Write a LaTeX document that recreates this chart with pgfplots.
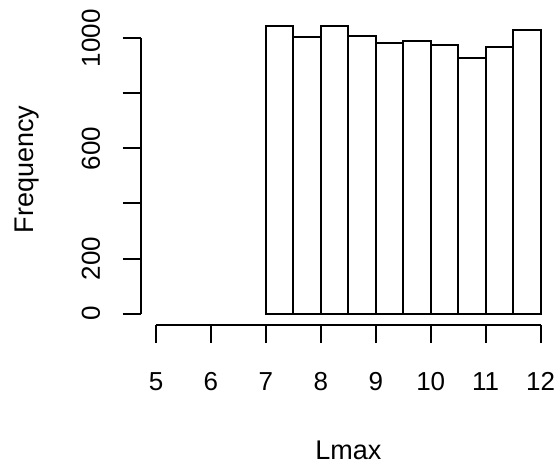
\documentclass[border=0pt]{standalone}
\usepackage{fontspec}
\setmainfont{Liberation Sans}
\usepackage{pgfplots}
\pgfplotsset{compat=1.18}

\begin{document}
\begin{tikzpicture}
\path[use as bounding box] (-70.3pt,-69.9pt) rectangle (207.2pt,162.6pt);
\begin{axis}[
    at={(0pt,0pt)}, anchor=south west,
    scale only axis,
    width=207.7pt, height=155.6pt,
    xmin=4.72, xmax=12.28,
    ymin=-41.8, ymax=1087.8,
    clip=false,
    axis line style={draw=none},
    tick pos=left, tick align=outside,
    major tick length=9pt,
    tick style={black, line width=1pt},
    xtick={5,...,12},
    ytick={0,200,...,1000},
    yticklabels={0,200,,600,,1000},
    /pgf/number format/assume math mode=true,
    tick label style={font=\fontsize{13}{15}\selectfont},
    xticklabel style={anchor=base, yshift=-23.7pt},
    yticklabel style={xshift=-11.3pt, rotate=90, anchor=base},
    every axis x label/.style={at={(axis description cs:0.5,-0.4306)}, anchor=base, font=\fontsize{13.5}{16}\selectfont},
    every axis y label/.style={at={(axis description cs:-0.258,0.5)}, rotate=90, anchor=base, font=\fontsize{13.5}{16}\selectfont},
    xlabel={Lmax},
    ylabel={Frequency},
]
\addplot[ybar interval, fill=white, draw=black, line width=1pt] coordinates {
  (7,1046) (7.5,1005) (8,1046) (8.5,1007) (9,983) (9.5,990)
  (10,976) (10.5,927) (11,967) (11.5,1029) (12,1029)
};
\draw[line width=1pt] (axis cs:5,-41.8) -- (axis cs:12,-41.8);
\draw[line width=1pt] (axis cs:4.72,0) -- (axis cs:4.72,1000);
\end{axis}
\end{tikzpicture}
\end{document}
